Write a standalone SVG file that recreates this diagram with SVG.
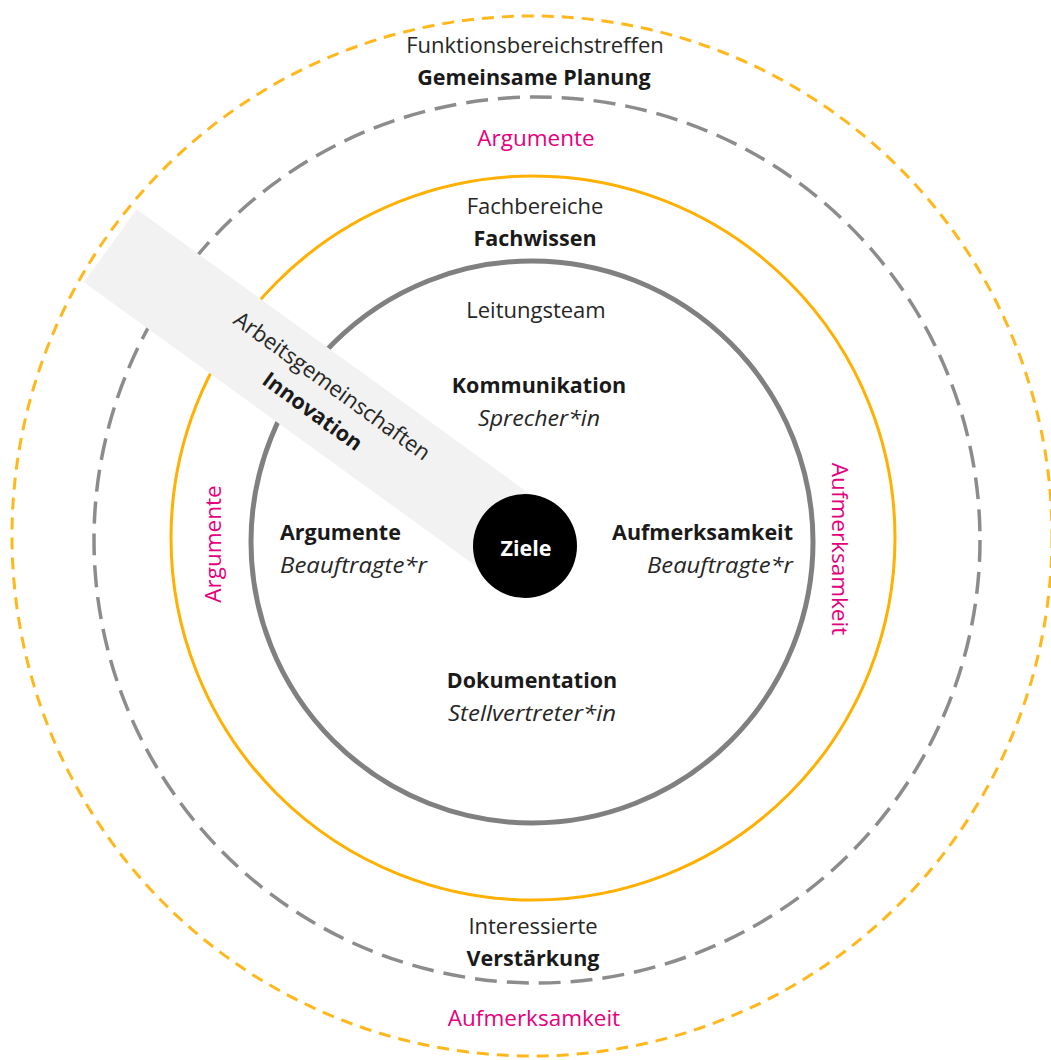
<svg xmlns="http://www.w3.org/2000/svg" width="1051" height="1060" viewBox="0 0 1051 1060">
  <style>
    text { font-family: "Open Sans", "Noto Sans", "Liberation Sans", sans-serif; font-size: 22px; fill: #262626; }
    .c { text-anchor: middle; }
    .r { text-anchor: end; }
    .b { font-weight: bold; font-size: 21.5px; fill: #1a1a1a; }
    .i { font-style: italic; font-size: 22.5px; }
    .pink { fill: #E5007D; font-size: 22.5px; }
    .ring-outer { fill: none; stroke: #FFB81C; stroke-width: 3; stroke-dasharray: 12 8; }
    .ring-dash { fill: none; stroke: #8C8C8C; stroke-width: 3.5; stroke-dasharray: 22 10; }
    .ring-gold { fill: none; stroke: #FFB000; stroke-width: 3; }
    .ring-inner { fill: none; stroke: #808080; stroke-width: 5; }
  </style>

  <rect width="1051" height="1060" fill="#ffffff"/>

  <!-- Funktionsbereichstreffen: outermost dashed ring -->
  <g id="ring-funktionsbereichstreffen">
    <circle class="ring-outer" cx="532" cy="536" r="520"/>
  </g>

  <!-- Interessierte: grey dashed ring -->
  <g id="ring-interessierte">
    <circle class="ring-dash" cx="537" cy="540" r="443"/>
  </g>

  <!-- Fachbereiche: gold ring -->
  <g id="ring-fachbereiche">
    <circle class="ring-gold" cx="533" cy="538" r="362"/>
  </g>

  <!-- Leitungsteam: inner grey ring -->
  <g id="ring-leitungsteam">
    <circle class="ring-inner" cx="532" cy="542" r="281"/>
  </g>

  <!-- Arbeitsgemeinschaften: diagonal band reaching the centre -->
  <g id="band-arbeitsgemeinschaften" transform="translate(525,546) rotate(35.9)">
    <rect x="-512" y="-45" width="512" height="90" fill="#F2F2F2"/>
    <text class="c" x="-250" y="-9">Arbeitsgemeinschaften</text>
    <text class="c b" x="-251" y="23">Innovation</text>
  </g>

  <!-- Labels of the outer rings -->
  <g id="label-funktionsbereichstreffen">
    <text class="c" x="535" y="53">Funktionsbereichstreffen</text>
    <text class="c b" x="534" y="85">Gemeinsame Planung</text>
  </g>
  <g id="label-argumente-top">
    <text class="c pink" x="536" y="146">Argumente</text>
  </g>
  <g id="label-fachbereiche">
    <text class="c" x="535" y="214">Fachbereiche</text>
    <text class="c b" x="535" y="246">Fachwissen</text>
  </g>
  <g id="label-argumente-left">
    <text class="c pink" transform="translate(221,544) rotate(-90)">Argumente</text>
  </g>
  <g id="label-aufmerksamkeit-right">
    <text class="c pink" transform="translate(832,549) rotate(90)">Aufmerksamkeit</text>
  </g>
  <g id="label-interessierte">
    <text class="c" x="533" y="934">Interessierte</text>
    <text class="c b" x="533" y="966">Verstärkung</text>
  </g>
  <g id="label-aufmerksamkeit-bottom">
    <text class="c pink" x="534" y="1026">Aufmerksamkeit</text>
  </g>

  <!-- Leitungsteam roles -->
  <g id="label-leitungsteam">
    <text class="c" x="536" y="318">Leitungsteam</text>
  </g>
  <g id="role-kommunikation">
    <text class="c b" x="539" y="393">Kommunikation</text>
    <text class="c i" x="539" y="426" textLength="122" lengthAdjust="spacingAndGlyphs">Sprecher*in</text>
  </g>
  <g id="role-argumente">
    <text class="b" x="280" y="540">Argumente</text>
    <text class="i" x="280" y="573" textLength="147" lengthAdjust="spacingAndGlyphs">Beauftragte*r</text>
  </g>
  <g id="role-aufmerksamkeit">
    <text class="r b" x="793" y="540">Aufmerksamkeit</text>
    <text class="r i" x="793" y="573" textLength="146" lengthAdjust="spacingAndGlyphs">Beauftragte*r</text>
  </g>
  <g id="role-dokumentation">
    <text class="c b" x="532" y="688">Dokumentation</text>
    <text class="c i" x="532" y="721" textLength="168" lengthAdjust="spacingAndGlyphs">Stellvertreter*in</text>
  </g>

  <!-- Centre: Ziele -->
  <g id="node-ziele">
    <circle cx="525" cy="546" r="52" fill="#000000"/>
    <text class="c b" x="526" y="556" style="fill:#ffffff">Ziele</text>
  </g>
</svg>
